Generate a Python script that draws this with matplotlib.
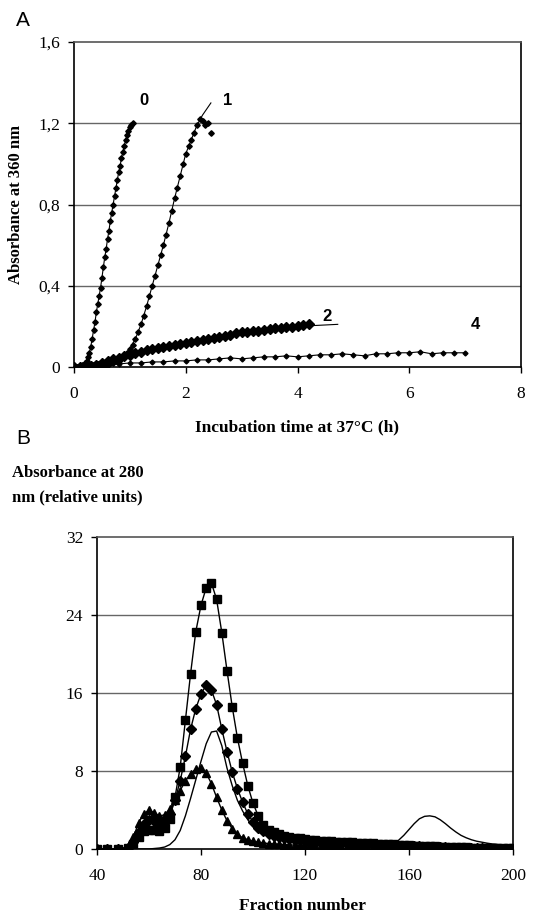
import matplotlib
matplotlib.use("Agg")
import matplotlib.pyplot as plt
import numpy as np

# ---- panel A: turbidity (absorbance at 360 nm) vs incubation time ----
t0 = np.arange(0, 1.051, 0.025)
a0 = [0.00, 0.00, 0.00, 0.00, 0.00, 0.00, 0.01, 0.01, 0.02, 0.03, 0.05,
      0.07, 0.10, 0.14, 0.18, 0.22, 0.27, 0.31, 0.35, 0.39, 0.44, 0.49,
      0.54, 0.58, 0.63, 0.67, 0.72, 0.76, 0.80, 0.84, 0.88, 0.92, 0.96,
      0.99, 1.03, 1.06, 1.09, 1.12, 1.14, 1.16, 1.18, 1.19, 1.20]

t1 = np.arange(0, 2.451, 0.05)
a1 = [0.00, 0.00, 0.00, 0.00, 0.00, 0.00, 0.00, 0.00, 0.00, 0.01, 0.01,
      0.01, 0.01, 0.02, 0.02, 0.03, 0.03, 0.04, 0.05, 0.07, 0.09, 0.11,
      0.14, 0.17, 0.21, 0.25, 0.30, 0.35, 0.40, 0.45, 0.50, 0.55, 0.60,
      0.65, 0.71, 0.77, 0.83, 0.88, 0.94, 1.00, 1.05, 1.09, 1.12, 1.15,
      1.19, 1.22, 1.21, 1.19, 1.20, 1.15]
fit1_t = [0, 0.5, 0.8, 1.0, 1.1, 1.2, 1.3, 1.4, 1.5, 1.6, 1.7, 1.8, 1.9,
          2.0, 2.1, 2.2, 2.3, 2.45]
fit1_a = [0, 0.01, 0.03, 0.09, 0.14, 0.21, 0.30, 0.40, 0.50, 0.60, 0.71,
          0.83, 0.94, 1.05, 1.12, 1.19, 1.24, 1.30]

t2 = np.arange(0, 4.201, 0.1)
a2 = [0.00, 0.00, 0.00, 0.005, 0.01, 0.02, 0.03, 0.037, 0.045, 0.052,
      0.06, 0.068, 0.075, 0.083, 0.09, 0.095, 0.10, 0.105, 0.11, 0.115,
      0.12, 0.125, 0.13, 0.135, 0.14, 0.145, 0.15, 0.155, 0.16, 0.165,
      0.17, 0.172, 0.175, 0.178, 0.18, 0.185, 0.19, 0.192, 0.195, 0.198,
      0.20, 0.205, 0.21]
fit2_t = [0, 1.0, 2.0, 3.0, 4.0, 4.72]
fit2_a = [0, 0.06, 0.12, 0.17, 0.20, 0.21]

t4 = np.arange(0, 7.01, 0.2)
a4 = [0.0, 0.005, 0.01, 0.01, 0.015, 0.02, 0.02, 0.025, 0.025, 0.03,
      0.03, 0.035, 0.035, 0.04, 0.045, 0.04, 0.045, 0.05, 0.05, 0.055,
      0.05, 0.055, 0.06, 0.06, 0.065, 0.06, 0.055, 0.065, 0.065, 0.07,
      0.07, 0.075, 0.065, 0.07, 0.07, 0.07]

# ---- panel B: gel filtration profiles ----
fraction = [40, 44, 48, 52] + list(range(54, 201, 2))
squares = [0, 0, 0, 0.1, 0.5, 1.2, 1.8, 2.0, 1.9, 1.8, 2.2, 3.1, 5.3, 8.4,
           13.2, 18.0, 22.3, 25.0, 26.8, 27.3, 25.6, 22.2, 18.3, 14.6,
           11.4, 8.8, 6.5, 4.7, 3.4, 2.5, 2.0, 1.7, 1.5, 1.35, 1.25, 1.15,
           1.1, 1.0, 0.95, 0.9, 0.85, 0.8, 0.78, 0.75, 0.72, 0.7, 0.67,
           0.64, 0.62, 0.6, 0.57, 0.55, 0.52, 0.5, 0.47, 0.44, 0.4, 0.37,
           0.34, 0.32, 0.3, 0.28, 0.26, 0.24, 0.22, 0.2, 0.19, 0.17, 0.16,
           0.15, 0.14, 0.13, 0.12, 0.11, 0.1, 0.09, 0.08, 0.08]
diamonds = [0, 0, 0, 0.1, 0.7, 1.7, 2.6, 3.0, 2.9, 2.7, 2.9, 3.6, 5.0, 7.0,
            9.5, 12.3, 14.4, 15.9, 16.8, 16.3, 14.8, 12.3, 10.0, 7.9, 6.2,
            4.8, 3.6, 2.8, 2.2, 1.8, 1.5, 1.3, 1.2, 1.1, 1.0, 0.95, 0.9,
            0.85, 0.8, 0.77, 0.74, 0.7, 0.68, 0.65, 0.62, 0.6, 0.57, 0.55,
            0.52, 0.5, 0.47, 0.45, 0.42, 0.4, 0.37, 0.35, 0.32, 0.3, 0.28,
            0.26, 0.24, 0.22, 0.2, 0.18, 0.16, 0.15, 0.13, 0.12, 0.1, 0.09,
            0.08, 0.07, 0.06, 0.05, 0.05, 0.04, 0.03, 0.03]
triangles = [0, 0, 0, 0.2, 1.2, 2.7, 3.6, 4.0, 3.7, 3.4, 3.5, 4.1, 5.0, 6.0,
             7.0, 7.7, 8.2, 8.3, 7.8, 6.7, 5.3, 4.0, 2.9, 2.1, 1.5, 1.15,
             0.95, 0.8, 0.7, 0.62, 0.56, 0.52, 0.48, 0.45, 0.42, 0.4, 0.38,
             0.36, 0.34, 0.32, 0.3, 0.28, 0.26, 0.25, 0.23, 0.22, 0.2, 0.19,
             0.17, 0.16, 0.15, 0.13, 0.12, 0.11, 0.1, 0.09, 0.08, 0.07,
             0.06, 0.05, 0.05, 0.04, 0.03, 0.03, 0.02, 0.02, 0.02, 0.01,
             0.01, 0.01, 0, 0, 0, 0, 0, 0, 0, 0]
plain = [0, 0, 0, 0, 0, 0, 0, 0, 0.05, 0.1, 0.2, 0.45, 0.95, 1.9, 3.4, 5.2,
         7.1, 9.0, 10.8, 12.0, 12.1, 10.6, 8.3, 6.5, 5.0, 3.9, 3.0, 2.3,
         1.8, 1.5, 1.3, 1.15, 1.05, 1.0, 0.95, 0.9, 0.87, 0.84, 0.82, 0.8,
         0.78, 0.76, 0.74, 0.72, 0.7, 0.68, 0.66, 0.65, 0.64, 0.62, 0.61,
         0.6, 0.6, 0.6, 0.65, 0.9, 1.4, 2.0, 2.6, 3.1, 3.35, 3.4, 3.3, 3.0,
         2.6, 2.15, 1.75, 1.4, 1.15, 0.95, 0.8, 0.7, 0.6, 0.52, 0.47, 0.42,
         0.38, 0.35]

serif = "Liberation Serif"
sans = "Liberation Sans"
W, H = 533, 915

fig = plt.figure(figsize=(W / 100, H / 100), dpi=100)

def px_axes(x0, y0, x1, y1):
    return fig.add_axes([x0 / W, 1 - y1 / H, (x1 - x0) / W, (y1 - y0) / H])

def style(ax):
    for s in ax.spines.values():
        s.set_linewidth(1.2)
    ax.spines["top"].set_color("#555555")
    ax.tick_params(direction="out", length=4, width=1, pad=6, labelsize=12.5)
    ax.tick_params(axis="x", pad=10)
    for lab in ax.get_xticklabels() + ax.get_yticklabels():
        lab.set_fontfamily(serif)

# panel A
axA = px_axes(74, 42, 521, 367)
axA.set_xlim(0, 8)
axA.set_ylim(0, 1.6)
axA.set_xticks([0, 2, 4, 6, 8])
axA.set_yticks([0, 0.4, 0.8, 1.2, 1.6])
axA.set_yticklabels(["0", "0,4", "0,8", "1,2", "1,6"])
for g in [0.4, 0.8, 1.2]:
    axA.axhline(g, color="#666666", lw=1, zorder=0)

axA.plot(t0, a0, "-", color="black", lw=0.8, marker="D", ms=2.8)
axA.plot(fit1_t, fit1_a, "-", color="black", lw=0.8)
axA.plot(t1, a1, color="black", marker="D", ms=2.8, ls="none")
axA.plot(fit2_t, fit2_a, "-", color="black", lw=0.8)
axA.plot(t2, a2, color="black", marker="D", ms=5, ls="none")
axA.plot(t4, a4, "-", color="black", lw=0.8, marker="D", ms=2.5)

for lab, x, y in [("0", 1.25, 1.31), ("1", 2.75, 1.31), ("2", 4.52, 0.25), ("4", 7.19, 0.21)]:
    axA.text(x, y, lab, fontfamily=sans, fontweight="bold", fontsize=12,
             ha="center", va="center")
style(axA)

# panel B
axB = px_axes(97, 537, 513, 849)
axB.set_xlim(40, 200)
axB.set_ylim(0, 32)
axB.set_xticks([40, 80, 120, 160, 200])
axB.set_yticks([0, 8, 16, 24, 32])
for g in [8, 16, 24]:
    axB.axhline(g, color="#666666", lw=1, zorder=0)

axB.plot(fraction, plain, "-", color="black", lw=1)
axB.plot(fraction, triangles, "-", color="black", lw=1, marker="^", ms=5.5)
axB.plot(fraction, diamonds, "-", color="black", lw=1, marker="D", ms=5)
axB.plot(fraction, squares, "-", color="black", lw=1, marker="s", ms=5.5)
style(axB)

# labels
fig.text(23 / W, 1 - 21 / H, "A", fontfamily=sans, fontsize=15, ha="center", va="center")
fig.text(23 / W, 1 - 438 / H, "B", fontfamily=sans, fontsize=15, ha="center", va="center")
fig.text(16 / W, 1 - 204 / H, "Absorbance at 360 nm", fontfamily=serif,
         fontweight="bold", fontsize=12, rotation=90, ha="center", va="center")
fig.text(297 / W, 1 - 427 / H, "Incubation time at 37°C (h)", fontfamily=serif,
         fontweight="bold", fontsize=12.5, ha="center", va="center")
fig.text(12 / W, 1 - 473 / H, "Absorbance at 280", fontfamily=serif,
         fontweight="bold", fontsize=12, ha="left", va="center")
fig.text(12 / W, 1 - 497 / H, "nm (relative units)", fontfamily=serif,
         fontweight="bold", fontsize=12, ha="left", va="center")
fig.text(302 / W, 1 - 906 / H, "Fraction number", fontfamily=serif,
         fontweight="bold", fontsize=12.5, ha="center", va="center")

fig.savefig("out.png", dpi=100)
